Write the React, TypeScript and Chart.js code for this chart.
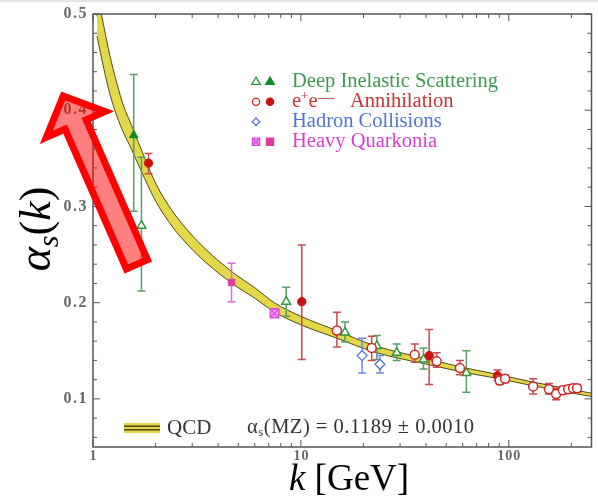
import React, { useEffect, useRef } from "react";
import { Chart, registerables } from "chart.js";

Chart.register(...registerables);

// ---------- QCD band ----------
const qcdK = [1.045, 1.128, 1.205, 1.302, 1.406, 1.535, 1.77, 2.01, 2.42, 2.9, 3.49, 4.67, 6.04, 7.47, 10.1, 14.9, 22.6, 42, 62.5, 88, 131, 253];
const qcdAlpha = [0.5, 0.465, 0.437, 0.411, 0.39, 0.3715, 0.34, 0.314, 0.2865, 0.266, 0.2485, 0.226, 0.2096, 0.195, 0.181, 0.167, 0.152, 0.138, 0.1295, 0.1235, 0.1155, 0.104];
const qcdHalfWidth = [0.023, 0.022, 0.02, 0.017, 0.014, 0.0125, 0.0108, 0.0092, 0.0082, 0.0074, 0.0068, 0.006, 0.0054, 0.0048, 0.0044, 0.0039, 0.0034, 0.0028, 0.0024, 0.0021, 0.0019, 0.0017];

// ---------- Deep Inelastic Scattering ----------
const disOpenK = [1.71, 8.5, 16.3, 23.2, 28.9, 38.9, 62.5];
const disOpenAlpha = [0.28, 0.201, 0.169, 0.155, 0.148, 0.141, 0.127];
const disOpenLo = [0.212, 0.186, 0.159, 0.141, 0.14, 0.131, 0.107];
const disOpenHi = [0.351, 0.216, 0.18, 0.166, 0.157, 0.153, 0.15];

const disFilledK = [1.57];
const disFilledAlpha = [0.374];
const disFilledLo = [0.295];
const disFilledHi = [0.437];

// ---------- e+e- Annihilation ----------
const eeOpenK = [14.9, 21.9, 35.3, 45, 58.2, 90.5, 96, 131, 156, 169, 182, 193, 204, 213];
const eeOpenAlpha = [0.171, 0.153, 0.146, 0.139, 0.132, 0.119, 0.121, 0.113, 0.11, 0.105, 0.109, 0.11, 0.111, 0.111];
const eeOpenLo = [0.154, 0.14, 0.138, 0.133, 0.125, 0.115, 0.117, 0.105, 0.105, 0.099, 0.105, 0.106, 0.107, 0.107];
const eeOpenHi = [0.19, 0.165, 0.157, 0.148, 0.14, 0.124, 0.125, 0.121, 0.116, 0.111, 0.113, 0.114, 0.115, 0.115];

const eeFilledK = [1.85, 10.1, 41.4, 88.3];
const eeFilledAlpha = [0.345, 0.201, 0.145, 0.124];
const eeFilledLo = [0.334, 0.141, 0.115, 0.119];
const eeFilledHi = [0.355, 0.26, 0.172, 0.13];

// ---------- Hadron Collisions ----------
const hadronK = [19.7, 24.0];
const hadronAlpha = [0.145, 0.136];
const hadronLo = [0.127, 0.127];
const hadronHi = [0.163, 0.145];

// ---------- Heavy Quarkonia ----------
const hqOpenK = [7.47];
const hqOpenAlpha = [0.189];
const hqOpenLo = [0.185];
const hqOpenHi = [0.194];

const hqFilledK = [4.64];
const hqFilledAlpha = [0.221];
const hqFilledLo = [0.201];
const hqFilledHi = [0.241];

// ---------- ticks ----------
const yTickValues = [0.1, 0.2, 0.3, 0.4, 0.5];
const yTickLabels = ["0.1", "0.2", "0.3", "0.4", "0.5"];
const yMinorTicks = [0.06, 0.08, 0.12, 0.14, 0.16, 0.18, 0.22, 0.24, 0.26, 0.28, 0.32, 0.34, 0.36, 0.38, 0.42, 0.44, 0.46, 0.48];
const xTickValues = [1, 10, 100];
const xTickLabels = ["1", "10", "100"];
const xMinorTicks = [2, 3, 4, 5, 6, 7, 8, 9, 20, 30, 40, 50, 60, 70, 80, 90, 200];

const legendLabels = ["Deep Inelastic Scattering", "Annihilation", "Hadron Collisions", "Heavy Quarkonia"];
const qcdLabel = "QCD";
const qcdFormula = "(MZ) = 0.1189 \u00b1 0.0010";

const SERIF = '"Liberation Serif", "DejaVu Serif", serif';

const C = {
  green: "#2c9a3c",
  greenFill: "#118a22",
  greenBar: "#5a9e68",
  red: "#d02626",
  redFill: "#cf1010",
  redBar: "#c84c4c",
  blue: "#5577dd",
  blueBar: "#6d8ce0",
  mag: "#dc48dc",
  magFill: "#d8409c",
  magBar: "#e068e0",
  bandFill: "#e2d84a",
  bandLine: "#4d4a18",
};

function pts(k: number[], a: number[], lo?: number[], hi?: number[]) {
  return k.map((v, i) => ({ x: v, y: a[i], lo: lo ? lo[i] : undefined, hi: hi ? hi[i] : undefined }));
}

function makeCrossSquare(): HTMLCanvasElement {
  const c = document.createElement("canvas");
  c.width = 11;
  c.height = 11;
  const g = c.getContext("2d")!;
  g.fillStyle = "#f3a6f0";
  g.fillRect(1, 1, 9, 9);
  g.strokeStyle = C.mag;
  g.lineWidth = 1.4;
  g.strokeRect(1.2, 1.2, 8.6, 8.6);
  g.beginPath();
  g.moveTo(2, 2);
  g.lineTo(9, 9);
  g.moveTo(9, 2);
  g.lineTo(2, 9);
  g.stroke();
  return c;
}

function drawTri(ctx: CanvasRenderingContext2D, x: number, y: number, r: number, filled: boolean, color: string) {
  ctx.beginPath();
  ctx.moveTo(x, y - r);
  ctx.lineTo(x + r * 0.95, y + r * 0.6);
  ctx.lineTo(x - r * 0.95, y + r * 0.6);
  ctx.closePath();
  ctx.fillStyle = filled ? color : "#fff";
  ctx.fill();
  ctx.strokeStyle = color;
  ctx.lineWidth = 1.3;
  ctx.stroke();
}
function drawCirc(ctx: CanvasRenderingContext2D, x: number, y: number, r: number, filled: boolean, color: string) {
  ctx.beginPath();
  ctx.arc(x, y, r, 0, Math.PI * 2);
  ctx.fillStyle = filled ? color : "#fff";
  ctx.fill();
  ctx.strokeStyle = color;
  ctx.lineWidth = 1.3;
  ctx.stroke();
}
function drawDiam(ctx: CanvasRenderingContext2D, x: number, y: number, r: number, color: string) {
  ctx.beginPath();
  ctx.moveTo(x, y - r);
  ctx.lineTo(x + r, y);
  ctx.lineTo(x, y + r);
  ctx.lineTo(x - r, y);
  ctx.closePath();
  ctx.fillStyle = "#fff";
  ctx.fill();
  ctx.strokeStyle = color;
  ctx.lineWidth = 1.3;
  ctx.stroke();
}
function drawSq(ctx: CanvasRenderingContext2D, x: number, y: number, r: number, crossed: boolean, color: string) {
  ctx.beginPath();
  ctx.rect(x - r, y - r, 2 * r, 2 * r);
  ctx.fillStyle = crossed ? "#f3a6f0" : color;
  ctx.fill();
  ctx.strokeStyle = color;
  ctx.lineWidth = 1.3;
  ctx.stroke();
  if (crossed) {
    ctx.beginPath();
    ctx.moveTo(x - r, y - r);
    ctx.lineTo(x + r, y + r);
    ctx.moveTo(x + r, y - r);
    ctx.lineTo(x - r, y + r);
    ctx.stroke();
  }
}

type Run = { t: string; f: string; dy?: number };
function runsWidth(ctx: CanvasRenderingContext2D, runs: Run[]) {
  let w = 0;
  for (const r of runs) {
    ctx.font = r.f;
    w += ctx.measureText(r.t).width;
  }
  return w;
}
function drawRuns(ctx: CanvasRenderingContext2D, x: number, y: number, runs: Run[]) {
  let cx = x;
  for (const r of runs) {
    ctx.font = r.f;
    ctx.fillText(r.t, cx, y + (r.dy || 0));
    cx += ctx.measureText(r.t).width;
  }
  return cx;
}

const decorPlugin = {
  id: "decor",
  beforeDatasetDraw(chart: any, args: any) {
    const ds = chart.data.datasets[args.index];
    if (!ds.errColor) return;
    const ctx = chart.ctx as CanvasRenderingContext2D;
    const xs = chart.scales.x;
    const ys = chart.scales.y;
    ctx.save();
    ctx.strokeStyle = ds.errColor;
    ctx.lineWidth = 1.5;
    for (const p of ds.data) {
      if (p.lo === undefined) continue;
      const px = xs.getPixelForValue(p.x);
      const y1 = ys.getPixelForValue(p.lo);
      const y2 = ys.getPixelForValue(p.hi);
      ctx.beginPath();
      ctx.moveTo(px, y1);
      ctx.lineTo(px, y2);
      ctx.moveTo(px - 4, y1);
      ctx.lineTo(px + 4, y1);
      ctx.moveTo(px - 4, y2);
      ctx.lineTo(px + 4, y2);
      ctx.stroke();
    }
    ctx.restore();
  },
  afterDraw(chart: any) {
    const ctx = chart.ctx as CanvasRenderingContext2D;
    const xs = chart.scales.x;
    const ys = chart.scales.y;
    const { left, right, top, bottom } = chart.chartArea;
    ctx.save();

    // top light strip
    ctx.fillStyle = "#e4e4e4";
    ctx.fillRect(0, 0, 598, 2);

    // frame
    ctx.strokeStyle = "#555";
    ctx.lineWidth = 1.5;
    ctx.strokeRect(left, top, right - left, bottom - top);

    // ticks
    ctx.lineWidth = 1;
    ctx.strokeStyle = "#555";
    ctx.beginPath();
    for (const v of yTickValues) {
      const py = ys.getPixelForValue(v);
      ctx.moveTo(left, py);
      ctx.lineTo(left + 7, py);
      ctx.moveTo(right, py);
      ctx.lineTo(right - 7, py);
    }
    for (const v of yMinorTicks) {
      const py = ys.getPixelForValue(v);
      ctx.moveTo(left, py);
      ctx.lineTo(left + 4, py);
      ctx.moveTo(right, py);
      ctx.lineTo(right - 4, py);
    }
    for (const v of xTickValues) {
      const px = xs.getPixelForValue(v);
      ctx.moveTo(px, bottom);
      ctx.lineTo(px, bottom - 7);
      ctx.moveTo(px, top);
      ctx.lineTo(px, top + 7);
    }
    for (const v of xMinorTicks) {
      const px = xs.getPixelForValue(v);
      ctx.moveTo(px, bottom);
      ctx.lineTo(px, bottom - 4);
      ctx.moveTo(px, top);
      ctx.lineTo(px, top + 4);
    }
    ctx.stroke();

    // tick labels
    ctx.fillStyle = "#666";
    ctx.font = "bold 16px " + SERIF;
    (ctx as any).letterSpacing = "1.5px";
    ctx.textBaseline = "middle";
    ctx.textAlign = "right";
    yTickValues.forEach((v, i) => {
      ctx.fillText(yTickLabels[i], left - 5, ys.getPixelForValue(v));
    });
    ctx.textAlign = "center";
    ctx.font = "bold 14px " + SERIF;
    (ctx as any).letterSpacing = "1px";
    xTickValues.forEach((v, i) => {
      ctx.fillText(xTickLabels[i], xs.getPixelForValue(v) + 0.5, bottom + 9);
    });
    (ctx as any).letterSpacing = "0px";

    // axis titles
    ctx.fillStyle = "#000";
    ctx.textAlign = "left";
    ctx.textBaseline = "alphabetic";
    const xt: Run[] = [
      { t: "k", f: "italic 37px " + SERIF },
      { t: " [GeV]", f: "37px " + SERIF },
    ];
    const xw = runsWidth(ctx, xt);
    drawRuns(ctx, 349 - xw / 2, 490, xt);

    ctx.save();
    ctx.translate(50, 229);
    ctx.rotate(-Math.PI / 2);
    const yt: Run[] = [
      { t: "\u03b1", f: "italic 46px " + SERIF },
      { t: "s", f: "italic 30px " + SERIF, dy: 8 },
      { t: "(", f: "44px " + SERIF },
      { t: "k", f: "italic 44px " + SERIF },
      { t: ")", f: "44px " + SERIF },
    ];
    const yw = runsWidth(ctx, yt);
    drawRuns(ctx, -yw / 2, 0, yt);
    ctx.restore();

    // legend (top)
    const lx1 = 256, lx2 = 270, tx = 292;
    const rows = [81.7, 101.7, 121.7, 141.7];
    drawTri(ctx, lx1, rows[0], 4.5, false, C.green);
    drawTri(ctx, lx2, rows[0], 4.5, true, C.greenFill);
    drawCirc(ctx, lx1, rows[1], 3.6, false, C.red);
    drawCirc(ctx, lx2, rows[1], 3.6, true, C.redFill);
    drawDiam(ctx, lx1, rows[2], 3.8, C.blue);
    drawSq(ctx, lx1, rows[3], 3.6, true, C.mag);
    drawSq(ctx, lx2, rows[3], 3.6, false, C.magFill);

    ctx.textBaseline = "middle";
    const LF = "20.5px " + SERIF;
    ctx.font = LF;
    ctx.fillStyle = "#3e9a4e";
    ctx.fillText(legendLabels[0], tx, rows[0]);
    ctx.fillStyle = "#c63434";
    const ee: Run[] = [
      { t: "e", f: LF },
      { t: "+", f: "13px " + SERIF, dy: -5 },
      { t: "e", f: LF },
      { t: "\u2014", f: "17px " + SERIF, dy: -4 },
      { t: "   " + legendLabels[1], f: LF },
    ];
    drawRuns(ctx, tx, rows[1], ee);
    ctx.fillStyle = "#4f74d0";
    ctx.font = LF;
    ctx.fillText(legendLabels[2], tx, rows[2]);
    ctx.fillStyle = "#d444d4";
    ctx.fillText(legendLabels[3], tx, rows[3]);

    // QCD legend (bottom)
    const qy = 428;
    ctx.fillStyle = C.bandFill;
    ctx.fillRect(124, qy - 5, 36, 10);
    ctx.strokeStyle = C.bandLine;
    ctx.lineWidth = 1.5;
    ctx.beginPath();
    ctx.moveTo(124, qy - 1.7);
    ctx.lineTo(160, qy - 1.7);
    ctx.moveTo(124, qy + 1.7);
    ctx.lineTo(160, qy + 1.7);
    ctx.stroke();
    ctx.fillStyle = "#333";
    ctx.font = "21px " + SERIF;
    ctx.fillText(qcdLabel, 167, qy);
    const FF = "20.5px " + SERIF;
    (ctx as any).letterSpacing = "0.5px";
    const fm: Run[] = [
      { t: "\u03b1", f: FF },
      { t: "s", f: "13px " + SERIF, dy: 5 },
      { t: qcdFormula, f: FF },
    ];
    drawRuns(ctx, 247, qy, fm);
    (ctx as any).letterSpacing = "0px";

    // red arrow (annotation)
    const T = { x: 136.9, y: 264.3 };
    const tip = { x: 63.2, y: 96 };
    const dx = tip.x - T.x, dy = tip.y - T.y;
    const L = Math.hypot(dx, dy);
    const u = { x: dx / L, y: dy / L };
    const n = { x: -u.y, y: u.x };
    const hl = 31, hw = 32, sw = 11.5;
    const P = (a: number, b: number) => ({ x: T.x + a * u.x + b * n.x, y: T.y + a * u.y + b * n.y });
    const poly = [P(L, 0), P(L - hl, hw), P(L - hl, sw), P(0, sw), P(0, -sw), P(L - hl, -sw), P(L - hl, -hw)];
    ctx.beginPath();
    poly.forEach((p, i) => (i ? ctx.lineTo(p.x, p.y) : ctx.moveTo(p.x, p.y)));
    ctx.closePath();
    ctx.fillStyle = "rgba(255,0,0,0.5)";
    ctx.fill();
    ctx.strokeStyle = "#ff0000";
    ctx.lineWidth = 7;
    ctx.lineJoin = "miter";
    ctx.stroke();

    ctx.restore();
  },
};

export default function App() {
  const ref = useRef<HTMLCanvasElement>(null);
  useEffect(() => {
    const canvas = ref.current!;
    const crossSq = makeCrossSquare();
    const lower = qcdK.map((k, i) => ({ x: k, y: qcdAlpha[i] - qcdHalfWidth[i] }));
    const upper = qcdK.map((k, i) => ({ x: k, y: qcdAlpha[i] + qcdHalfWidth[i] }));
    const mid = qcdK.map((k, i) => ({ x: k, y: qcdAlpha[i] }));
    const bandCommon = {
      type: "line" as const,
      pointRadius: 0,
      cubicInterpolationMode: "monotone" as const,
      order: 5,
    };
    const chart = new Chart(canvas, {
      type: "scatter",
      data: {
        datasets: [
          { ...bandCommon, label: "lo", data: lower, borderColor: C.bandLine, borderWidth: 1, fill: false },
          { ...bandCommon, label: "hi", data: upper, borderColor: C.bandLine, borderWidth: 1, fill: "-1", backgroundColor: C.bandFill },
          { ...bandCommon, label: "mid", data: mid, borderColor: "#2a2810", borderWidth: 1.3, fill: false },
          {
            label: "hqFilled", data: pts(hqFilledK, hqFilledAlpha, hqFilledLo, hqFilledHi),
            pointStyle: "rect", pointRadius: 4.5, backgroundColor: C.magFill, borderColor: C.magFill, borderWidth: 1, errColor: C.magBar, order: 0,
          } as any,
          {
            label: "hqOpen", data: pts(hqOpenK, hqOpenAlpha, hqOpenLo, hqOpenHi),
            pointStyle: crossSq, pointRadius: 5, errColor: C.magBar, order: 0,
          } as any,
          {
            label: "hadron", data: pts(hadronK, hadronAlpha, hadronLo, hadronHi),
            pointStyle: "rectRot", pointRadius: 5, backgroundColor: "#fff", borderColor: C.blue, borderWidth: 1.3, errColor: C.blueBar, order: 0,
          } as any,
          {
            label: "eeOpen", data: pts(eeOpenK, eeOpenAlpha, eeOpenLo, eeOpenHi),
            pointStyle: "circle", pointRadius: 4.5, backgroundColor: "#fff", borderColor: C.red, borderWidth: 1.5, errColor: C.redBar, order: 0,
          } as any,
          {
            label: "eeFilled", data: pts(eeFilledK, eeFilledAlpha, eeFilledLo, eeFilledHi),
            pointStyle: "circle", pointRadius: 4.2, backgroundColor: C.redFill, borderColor: C.redFill, borderWidth: 1, errColor: C.redBar, order: 0,
          } as any,
          {
            label: "disOpen", data: pts(disOpenK, disOpenAlpha, disOpenLo, disOpenHi),
            pointStyle: "triangle", pointRadius: 5, backgroundColor: "#fff", borderColor: C.green, borderWidth: 1.5, errColor: C.greenBar, order: 0,
          } as any,
          {
            label: "disFilled", data: pts(disFilledK, disFilledAlpha, disFilledLo, disFilledHi),
            pointStyle: "triangle", pointRadius: 5, backgroundColor: C.greenFill, borderColor: C.greenFill, borderWidth: 1, errColor: C.greenBar, order: 0,
          } as any,
        ],
      },
      options: {
        animation: false,
        responsive: false,
        devicePixelRatio: 1,
        layout: { padding: { top: 14, right: 1, left: 0, bottom: 0 } },
        plugins: { legend: { display: false }, tooltip: { enabled: false }, title: { display: false } },
        scales: {
          x: {
            type: "logarithmic",
            min: 1,
            max: 250,
            ticks: { display: false },
            grid: { display: false },
            border: { display: false },
            afterFit: (s: any) => { s.height = 52; },
          },
          y: {
            type: "linear",
            min: 0.05,
            max: 0.5,
            ticks: { display: false },
            grid: { display: false },
            border: { display: false },
            afterFit: (s: any) => { s.width = 93; },
          },
        },
      },
      plugins: [decorPlugin],
    } as any);
    return () => chart.destroy();
  }, []);
  return (
    <div style={{ position: "fixed", left: 0, top: 0, width: 598, height: 499, background: "#fff" }}>
      <canvas ref={ref} width={598} height={499} style={{ width: 598, height: 499, display: "block" }} />
    </div>
  );
}
